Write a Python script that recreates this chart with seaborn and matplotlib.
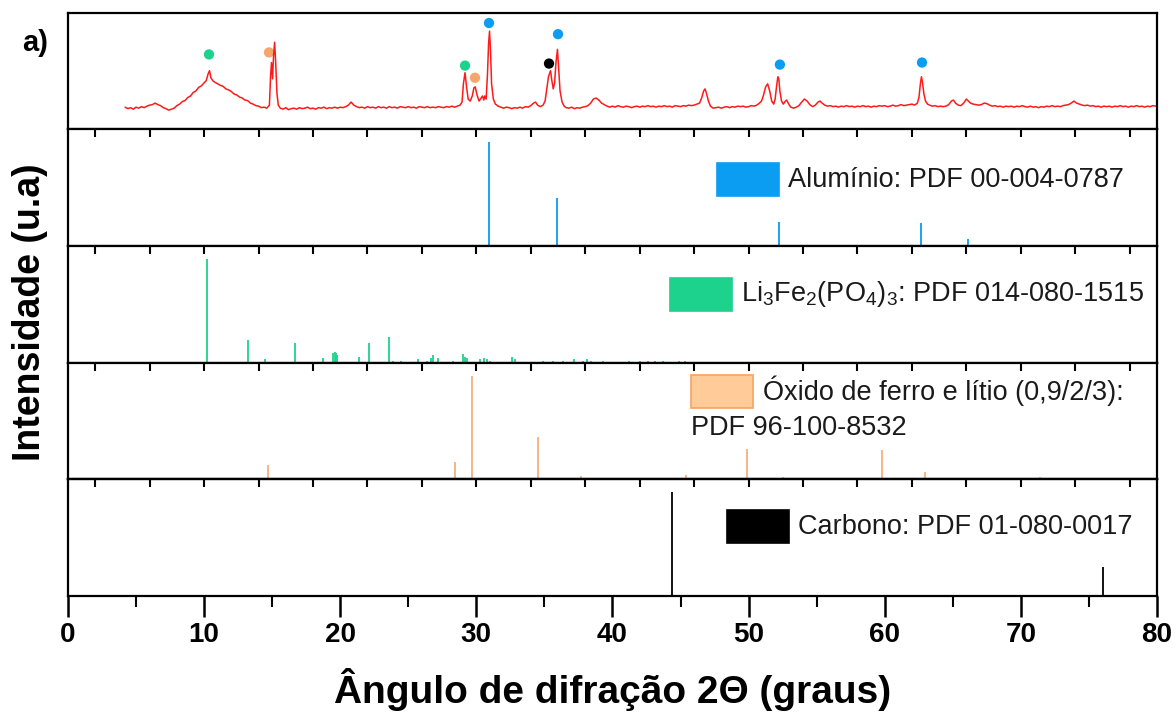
import numpy as np
import pandas as pd
import matplotlib
matplotlib.use("Agg")
import matplotlib.pyplot as plt
from matplotlib.patches import Rectangle
import seaborn as sns

xrd_2theta = [
    4.2, 4.4, 4.6, 4.8, 5.0, 5.2, 5.4, 5.6, 5.8, 6.0, 6.2, 6.4, 6.6, 6.8, 7.0, 7.2, 7.4, 7.6,
    7.8, 8.0, 8.2, 8.4, 8.6, 8.8, 9.0, 9.2, 9.4, 9.6, 9.8, 10.0, 10.15, 10.3, 10.4, 10.5, 10.65,
    10.8, 11.0, 11.2, 11.4, 11.6, 11.8, 12.0, 12.2, 12.4, 12.6, 12.8, 13.0, 13.2, 13.4, 13.6,
    13.8, 14.0, 14.2, 14.4,
    14.6, 14.8, 14.88, 14.95, 15.03, 15.1, 15.18, 15.26, 15.35, 15.45, 15.6,
    15.8, 16.0, 16.2, 16.4, 16.6, 16.8, 17.0, 17.2, 17.4, 17.6, 17.8, 18.0, 18.2, 18.4, 18.6,
    18.8, 19.0, 19.2, 19.4, 19.6, 19.8, 20.0, 20.2, 20.4, 20.6, 20.8, 21.0, 21.2, 21.4, 21.6,
    21.8, 22.0, 22.2, 22.4, 22.6, 22.8, 23.0, 23.2, 23.4, 23.6, 23.8, 24.0, 24.2, 24.4, 24.6,
    24.8, 25.0, 25.2, 25.4, 25.6, 25.8, 26.0, 26.2, 26.4, 26.6, 26.8, 27.0, 27.2, 27.4, 27.6,
    27.8, 28.0, 28.2, 28.4, 28.6, 28.8,
    28.95, 29.05, 29.17, 29.28, 29.4, 29.55, 29.7, 29.82, 29.92, 30.05, 30.2, 30.35, 30.45,
    30.55, 30.62, 30.72, 30.82, 30.9, 30.97, 31.04, 31.12, 31.25, 31.4, 31.6,
    31.8, 32.0, 32.2, 32.4, 32.6, 32.8, 33.0, 33.2, 33.4, 33.6, 33.8, 34.0, 34.2, 34.35, 34.5,
    34.7, 34.9,
    35.05, 35.2, 35.3, 35.45, 35.55, 35.65, 35.75, 35.85, 35.96, 36.05, 36.15, 36.3, 36.45, 36.6,
    36.8, 37.0, 37.2, 37.4, 37.6, 37.8, 38.0, 38.2, 38.4, 38.6, 38.8, 39.0, 39.2, 39.4, 39.6,
    39.8, 40.0, 40.2, 40.4, 40.6, 40.8, 41.0, 41.2, 41.4, 41.6, 41.8, 42.0, 42.2, 42.4, 42.6,
    42.8, 43.0, 43.2, 43.4, 43.6, 43.8, 44.0, 44.2, 44.4, 44.6, 44.8, 45.0, 45.2, 45.4, 45.6,
    45.8, 46.0, 46.2,
    46.4, 46.55, 46.7, 46.8, 46.9, 47.05, 47.2, 47.4,
    47.6, 47.8, 48.0, 48.2, 48.4, 48.6, 48.8, 49.0, 49.2, 49.4, 49.6, 49.8, 50.0, 50.2, 50.4,
    50.6, 50.8,
    50.95, 51.1, 51.25, 51.4, 51.55, 51.7, 51.85, 51.95, 52.05, 52.15, 52.22, 52.3, 52.42,
    52.55, 52.7, 52.8, 52.95, 53.1,
    53.3, 53.5, 53.7, 53.9, 54.1, 54.3, 54.5, 54.7, 54.9, 55.1, 55.25, 55.4, 55.6, 55.8, 56.0,
    56.2, 56.4, 56.6, 56.8, 57.0, 57.2, 57.4, 57.6, 57.8, 58.0, 58.2, 58.4, 58.6, 58.8, 59.0,
    59.2, 59.4, 59.6, 59.8, 60.0, 60.2, 60.4, 60.6, 60.8, 61.0, 61.2, 61.4, 61.6, 61.8, 62.0,
    62.2,
    62.4, 62.52, 62.62, 62.7, 62.78, 62.88, 63.0, 63.15, 63.3,
    63.5, 63.7, 63.9, 64.1, 64.3, 64.5, 64.7, 64.9, 65.05, 65.2, 65.4, 65.6, 65.8, 66.0, 66.15,
    66.3, 66.5, 66.7, 66.9, 67.1, 67.3, 67.5, 67.7, 67.9, 68.1, 68.3, 68.5, 68.7, 68.9, 69.1,
    69.3, 69.5, 69.7, 69.9, 70.1, 70.3, 70.5, 70.7, 70.9, 71.1, 71.3, 71.5, 71.7, 71.9, 72.1,
    72.3, 72.5, 72.7, 72.9, 73.1, 73.3, 73.5, 73.7, 73.9, 74.1, 74.3, 74.5, 74.7, 74.9, 75.1,
    75.3, 75.5, 75.7, 75.9, 76.1, 76.3, 76.5, 76.7, 76.9, 77.1, 77.3, 77.5, 77.7, 77.9, 78.1,
    78.3, 78.5, 78.7, 78.9, 79.1, 79.3, 79.5, 79.7, 79.9,
]
xrd_counts = [
    22, 20.5, 21.5, 20, 22, 21, 22.5, 21.5, 23, 24, 24.5, 26, 24.5, 23.5, 21.5, 20.5, 19, 20,
    21, 23.5, 25, 27.5, 28.5, 31.5, 33, 36.5, 38, 41.5, 43, 46, 48, 55, 58, 51, 48,
    46.5, 45, 43.5, 42.5, 40, 39, 37.5, 35, 34, 32, 31, 29, 28.5, 26, 25,
    23.5, 23, 21.5, 22,
    21, 24, 52, 66, 50, 72, 86, 66, 36, 24, 21,
    20, 21.5, 19.5, 20.5, 21, 20, 21.5, 20.5, 21, 22, 20.5, 21, 20, 21.5, 21,
    22, 20.5, 21.5, 21, 22, 21, 22, 21.5, 22.5, 24, 27, 24, 22.5, 21.5, 22,
    21, 22.5, 21.5, 22, 21, 22.5, 21.5, 22, 21, 22.5, 21.5, 22, 21, 22.5, 22,
    21.5, 22.5, 21.5, 22, 21, 22.5, 22, 21.5, 22.5, 21.5, 22, 21.5, 22.5, 22, 21.5,
    22.5, 22, 23, 22, 23, 24,
    27, 45, 56, 42, 30, 28, 33, 41, 42, 34, 28, 31, 33,
    29, 33, 30, 55, 85, 97, 78, 45, 30, 25, 23,
    22, 21, 22, 21.5, 20.5, 21.5, 21, 22, 21, 22.5, 22, 23.5, 26, 27, 24,
    22.5, 24,
    28, 42, 52, 58, 48, 40, 46, 66, 79, 60, 38, 27, 23, 21.5,
    21, 22, 20.5, 21.5, 21, 22, 22.5, 23.5, 26, 30, 31, 29, 26, 24.5, 23,
    22, 23, 22, 23.5, 22.5, 22, 23, 22.5, 21.5, 22.5, 23, 22, 23, 22.5, 23.5,
    22.5, 23, 22, 23, 22.5, 23.5, 22.5, 23, 22, 23.5, 23, 22.5, 23.5, 23, 24,
    23.5, 24, 25,
    26, 31, 38, 40, 36, 28, 23, 21,
    21.5, 22, 21, 22, 22.5, 21.5, 22.5, 22, 23, 22.5, 23, 22, 22.5, 23.5, 23,
    24, 26,
    28, 34, 42, 45, 38, 28, 25, 30, 42, 52, 50, 38, 28,
    25, 28, 29, 25, 22,
    21, 22, 23.5, 27, 30, 28, 24.5, 22.5, 24, 27, 28, 26, 24, 23, 23.5,
    22.5, 23, 22, 23, 22.5, 23.5, 22.5, 23, 22, 23, 22.5, 23.5, 22.5, 23, 22,
    23, 22.5, 23.5, 23, 23.5, 22.5, 23, 24, 23, 23.5, 24.5, 23.5, 24, 24.5, 25,
    24,
    26, 32, 45, 52, 46, 35, 28, 25, 24,
    23, 23.5, 22.5, 23, 22.5, 23, 24.5, 28, 29, 26, 24, 23.5, 26, 30, 28,
    26, 25, 24.5, 24, 24.5, 26, 25.5, 24, 23, 23.5, 22.5, 23, 22, 23, 22.5,
    23, 22, 23, 22.5, 23.5, 22.5, 22, 23, 22, 22.5, 21.5, 22.5, 22, 23, 22.5,
    23.5, 22.5, 23, 22.5, 23.5, 24, 24.5, 26, 28, 26, 25, 24, 23.5, 24, 23,
    23.5, 22.5, 23, 22, 23, 22.5, 23, 22, 23, 22.5, 23.5, 22.5, 23, 22, 23,
    22.5, 23.5, 22.5, 23, 22, 23, 22.5, 23.5, 23,
]

# phase markers on the measured pattern
mark_2theta = [10.36, 14.77, 29.17, 29.9, 30.93, 35.34, 36.0, 52.3, 62.74]
mark_height = [74, 76, 63, 51, 105, 65, 94, 64, 66]
mark_phase = ["Li", "Ox", "Li", "Ox", "Al", "C", "Al", "Al", "Al"]

# --- reference patterns (relative intensity) ---
al_pos = [30.96, 35.96, 52.2, 62.7, 66.1]
al_int = [100, 46, 23, 22, 7]

li_pos = [10.25, 11.6, 13.2, 14.5, 16.65, 18.7, 19.5, 19.6, 19.7, 19.8, 21.35, 22.15, 23.55,
          23.85, 24.45, 25.75, 26.4, 26.7, 26.85, 27.2, 28.3, 29.05, 29.2, 29.35, 30.3, 30.55,
          30.75, 31.0, 32.0, 32.65, 32.85, 34.9, 35.6, 36.4, 37.2, 37.8, 38.1, 38.4, 39.3,
          40.1, 41.2, 42.0, 42.6, 43.1, 43.7, 44.2, 44.9, 45.3, 45.6]
li_int = [100, 1, 22, 3, 19, 4, 9, 10, 9, 7, 5, 19, 25,
          2, 2, 3, 2, 4, 7, 4, 2, 8, 5, 4, 3, 4,
          3, 2, 1, 5, 3, 2, 2, 2, 3, 2, 3, 2, 2,
          1, 2, 2, 2, 2, 2, 1, 2, 2, 1]

ox_pos = [14.7, 24.2, 28.4, 29.7, 34.5, 37.7, 45.4, 49.9, 52.5, 59.0, 59.8, 62.95, 71.4]
ox_int = [14, 1, 17, 100, 41, 3, 4, 29, 2, 1, 28, 7, 2]

c_pos = [44.35, 76.0]
c_int = [100, 28]

phase_colors = {"Al": "#0A9DF2", "Li": "#1DD28C", "Ox": "#F5A66C", "C": "#000000"}

sns.set_theme(style="white")
plt.rcParams["font.family"] = ["Liberation Sans", "DejaVu Sans"]
plt.rcParams["mathtext.fontset"] = "custom"
plt.rcParams["mathtext.rm"] = "Liberation Sans"
plt.rcParams["mathtext.it"] = "Liberation Sans:italic"
plt.rcParams["text.color"] = "black"
plt.rcParams["axes.labelcolor"] = "black"
plt.rcParams["xtick.color"] = "black"

fig = plt.figure(figsize=(11.76, 7.16), dpi=100)
gs = fig.add_gridspec(5, 1, left=0.0578, right=0.9838, top=0.982, bottom=0.168, hspace=0)
axes = [fig.add_subplot(gs[i]) for i in range(5)]

for ax in axes:
    ax.set_xlim(0, 80)
    ax.set_yticks([])
    ax.set_ylabel("")
    for sp in ax.spines.values():
        sp.set_color("black")
        sp.set_linewidth(1.6)

# top panel: measured pattern
ax0 = axes[0]
xrd = pd.DataFrame({"two_theta": xrd_2theta, "counts": xrd_counts})
sns.lineplot(data=xrd, x="two_theta", y="counts", ax=ax0, color="#FF1A1A",
             linewidth=1.1, sort=False, estimator=None)
marks = pd.DataFrame({"x": mark_2theta, "y": mark_height, "phase": mark_phase})
sns.scatterplot(data=marks, x="x", y="y", hue="phase", palette=phase_colors, ax=ax0,
                s=55, edgecolor="none", legend=False)
ax0.set_ylim(0, 115)
ax0.set_xlabel("")
ax0.set_ylabel("")
ax0.tick_params(axis="x", which="both", bottom=False, top=False, labelbottom=False)

# reference panels
refs = [
    (axes[1], al_pos, al_int, phase_colors["Al"], 112.6),
    (axes[2], li_pos, li_int, phase_colors["Li"], 112.5),
    (axes[3], ox_pos, ox_int, "#F9B07C", 113.5),
    (axes[4], c_pos, c_int, "black", 112.5),
]
inner_ticks = np.arange(2, 80, 4)
for ax, pos, inten, col, ytop in refs:
    ax.vlines(pos, 0, inten, color=col, linewidth=1.3)
    ax.set_ylim(0, ytop)

for ax in axes[1:4]:
    ax.set_xticks(inner_ticks)
    ax.tick_params(axis="x", which="both", bottom=False, top=True, direction="in",
                   length=6, width=1.5, color="black", labelbottom=False, labeltop=False)

# bottom panel: outward ticks below, inward ticks on top
axb = axes[4]
sec = axb.secondary_xaxis("top")
sec.set_xticks(inner_ticks)
sec.tick_params(axis="x", direction="in", length=6, width=1.5, color="black", labeltop=False)
sec.spines["top"].set_linewidth(1.6)
axb.set_xticks(np.arange(0, 81, 10))
axb.set_xticks(np.arange(5, 80, 10), minor=True)
axb.tick_params(axis="x", which="major", direction="out", length=15, width=1.8,
                color="black", labelcolor="black", bottom=True, pad=4)
axb.tick_params(axis="x", which="minor", direction="out", length=8, width=1.5,
                color="black", bottom=True)
for lab in axb.get_xticklabels():
    lab.set_fontsize(20)
    lab.set_fontweight("bold")
axb.set_xlabel("Ângulo de difração 2Θ (graus)", fontsize=28, fontweight="bold",
               labelpad=14, color="black")

# legend boxes drawn in axes coordinates
leg_font = 19.5
def legend_box(ax, x0, y0, face, edge, text, tx, ty):
    ax.add_patch(Rectangle((x0, y0), 0.057, 0.28, transform=ax.transAxes,
                           facecolor=face, edgecolor=edge, linewidth=1.2))
    ax.text(tx, ty, text, transform=ax.transAxes, fontsize=leg_font,
            ha="left", va="center", color="#1a1a1a")

legend_box(axes[1], 0.596, 0.43, phase_colors["Al"], phase_colors["Al"],
           "Alumínio: PDF 00-004-0787", 0.661, 0.57)
legend_box(axes[2], 0.553, 0.445, phase_colors["Li"], phase_colors["Li"],
           r"Li$_3$Fe$_2$(PO$_4$)$_3$: PDF 014-080-1515", 0.618, 0.59)
legend_box(axes[3], 0.572, 0.61, "#FFCC99", "#F4A460",
           "Óxido de ferro e lítio (0,9/2/3):", 0.638, 0.755)
axes[3].text(0.572, 0.44, "PDF 96-100-8532", transform=axes[3].transAxes,
             fontsize=leg_font, ha="left", va="center", color="#1a1a1a")
legend_box(axes[4], 0.605, 0.453, "black", "black",
           "Carbono: PDF 01-080-0017", 0.670, 0.59)

fig.text(0.0255, 0.564, "Intensidade (u.a)", rotation=90, fontsize=27,
         fontweight="bold", ha="center", va="center", color="black")
fig.text(0.019, 0.94, "a)", fontsize=21, fontweight="bold", ha="left", va="center",
         color="black")

fig.savefig("out.png", dpi=100, facecolor="white")
